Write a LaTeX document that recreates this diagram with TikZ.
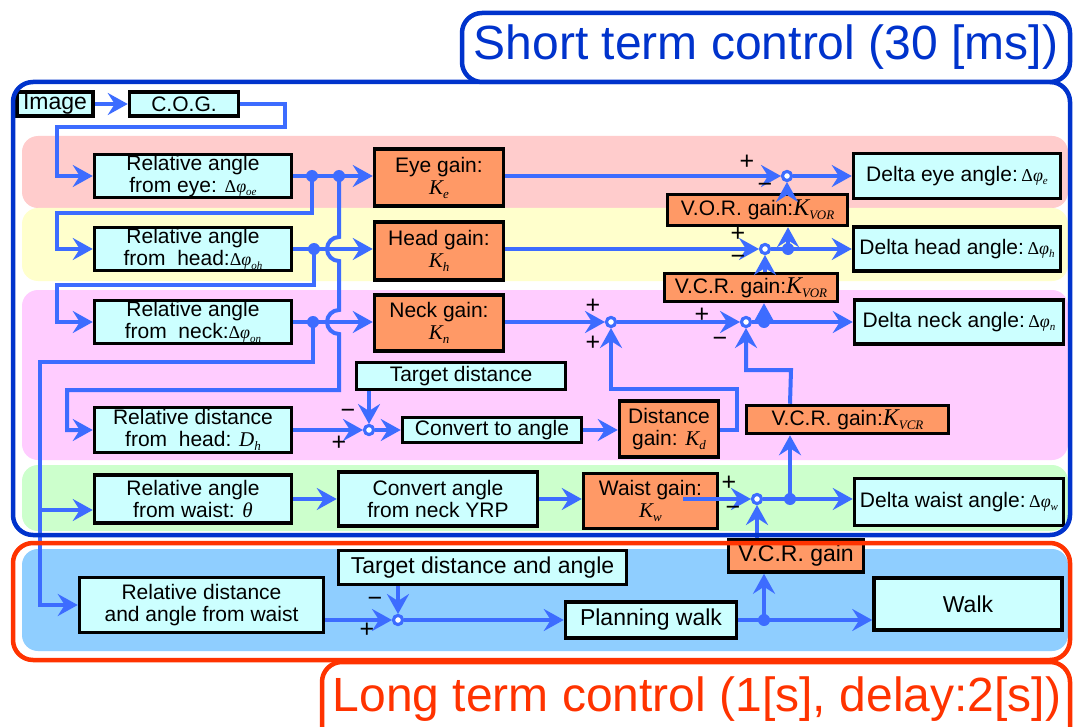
\documentclass[tikz,border=0pt]{standalone}
\usepackage{fontspec}
\setmainfont{Liberation Sans}
\newfontfamily\tms{Liberation Serif}
\usetikzlibrary{arrows.meta}

\definecolor{ln}{RGB}{61,108,255}
\definecolor{cy}{RGB}{204,255,255}
\definecolor{og}{RGB}{255,153,102}
\definecolor{fb}{RGB}{0,51,204}
\definecolor{fr}{RGB}{255,51,0}
\definecolor{bEye}{RGB}{255,204,204}
\definecolor{bHead}{RGB}{255,255,204}
\definecolor{bNeck}{RGB}{255,204,255}
\definecolor{bWaist}{RGB}{204,255,204}
\definecolor{bLong}{RGB}{143,206,255}

% italic symbol with subscript
\newcommand\mk[3][21]{{\fontsize{#1}{#1}\selectfont\tms\itshape #2}\raisebox{-4pt}{\fontsize{13}{13}\selectfont\tms\itshape #3}}
% Delta-phi with subscript
\newcommand\dphi[1]{{\fontsize{18}{18}\selectfont\tms Δ\itshape φ}\raisebox{-3.5pt}{\fontsize{11}{11}\selectfont\tms\itshape #1}}

\tikzset{
  cbox/.style={draw=black, line width=3.5pt, fill=cy, align=center, inner sep=0pt,
               font=\fontsize{21}{22}\selectfont},
  obox/.style={cbox, fill=og},
  big/.style={font=\fontsize{23}{24}\selectfont},
  arr/.style={draw=ln, line width=4pt, -{Stealth[length=20pt,width=22pt,inset=7pt]}},
  wire/.style={draw=ln, line width=4pt},
  ring/.style={circle, draw=ln, line width=3pt, fill=white, minimum size=9pt, inner sep=0pt},
  dot/.style={circle, fill=ln, minimum size=12pt, inner sep=0pt},
  sgn/.style={font=\fontsize{25}{25}\selectfont, inner sep=0pt},
  band/.style={rounded corners=16pt},
  frame/.style={line width=4.5pt, rounded corners=20pt},
}

\begin{document}
\begin{tikzpicture}[x=1pt, y=-1pt]
\useasboundingbox (0,0) rectangle (1075,727);
\clip (0,0) rectangle (1075,727);
\fill[white] (0,0) rectangle (1075,727);

% coloured bands
\fill[bEye,   band] (22,136) rectangle (1068,208);
\fill[bHead,  band] (22,208) rectangle (1068,281);
\fill[bNeck,  band] (22,290) rectangle (1068,460);
\fill[bWaist, band] (22,465) rectangle (1068,531);
\fill[bLong,  band] (22,549) rectangle (1068,651);

% blocks
\node[cbox, big, minimum width=76pt,  minimum height=24pt] (img)  at (55,104)  {Image};
\node[cbox, minimum width=109pt, minimum height=24pt] (cog)  at (184,104) {C.O.G.};
\node[cbox, minimum width=197pt, minimum height=43pt] (rele) at (193,176) {Relative angle\\ from eye: \dphi{oe}};
\node[cbox, minimum width=197pt, minimum height=43pt] (relh) at (193,249) {Relative angle\\ from\ \ head:\dphi{oh}};
\node[cbox, minimum width=197pt, minimum height=43pt] (reln) at (193,322) {Relative angle\\ from\ \ neck:\dphi{on}};
\node[cbox, minimum width=197pt, minimum height=45pt] (reld) at (193,430) {Relative distance\\ from\ \ head: \mk{D}{h}};
\node[cbox, minimum width=197pt, minimum height=48pt] (relw) at (193,499) {Relative angle\\ from waist: {\fontsize{21}{21}\selectfont\tms\itshape θ}};

\node[obox, minimum width=129pt, minimum height=57pt] (eg) at (439,177.5) {Eye gain:\\ \mk{K}{e}};
\node[obox, minimum width=129pt, minimum height=58pt] (hg) at (439,251)   {Head gain:\\ \mk{K}{h}};
\node[obox, minimum width=129pt, minimum height=56pt] (ng) at (439,323)   {Neck gain:\\ \mk{K}{n}};

\node[cbox, minimum width=209pt, minimum height=27pt] (td)   at (461,376)   {Target distance};
\node[cbox, minimum width=179pt, minimum height=25pt] (conv) at (492,430)   {Convert to angle};
\node[obox, minimum width=99pt,  minimum height=56pt] (dg)   at (669,429)   {Distance\\ gain: \mk{K}{d}};
\node[cbox, minimum width=199pt, minimum height=54pt] (cn)   at (438,499)   {Convert angle\\ from neck YRP};
\node[obox, minimum width=134pt, minimum height=55pt] (wg)   at (650.5,501) {Waist gain:\\ \mk{K}{w}};

\node[cbox, minimum width=207pt, minimum height=45pt] (dele) at (957,176) {Delta eye angle:\,\dphi{e}};
\node[cbox, minimum width=207pt, minimum height=44pt] (delh) at (957,249) {Delta head angle:\,\dphi{h}};
\node[cbox, minimum width=209pt, minimum height=44pt] (deln) at (959,322) {Delta neck angle:\,\dphi{n}};
\node[cbox, minimum width=209pt, minimum height=47pt] (delw) at (959,502) {Delta waist angle:\,\dphi{w}};

\node[obox, minimum width=180pt, minimum height=31pt] (vor)  at (757.5,210) {V.O.R. gain:\mk[24]{K}{VOR}};
\node[obox, minimum width=173pt, minimum height=28pt] (vcr1) at (751,287.5) {V.C.R. gain:\mk[24]{K}{VOR}};
\node[obox, minimum width=202pt, minimum height=28pt] (vcrd) at (847.5,419.5) {V.C.R. gain:\mk[24]{K}{VCR}};
\node[obox, big, minimum width=135pt, minimum height=32pt] (vcr2) at (796,556) {V.C.R. gain};

\node[cbox, big, minimum width=288pt, minimum height=34pt] (tda)  at (482.5,567.5) {Target distance and angle};
\node[cbox, minimum width=244pt, minimum height=55pt] (rdaw) at (201.5,605) {Relative distance\\ and angle from waist};
\node[cbox, big, minimum width=171pt, minimum height=36pt] (pw)   at (651,620) {Planning walk};
\node[cbox, big, minimum width=188pt, minimum height=52pt] (walk) at (968,604) {Walk};

% summing points and branch points
\node[ring] (sEye)  at (787,176) {};
\node[ring] (sHead) at (765,249) {};
\node[ring] (sN1)   at (611,322) {};
\node[ring] (sN2)   at (746,322) {};
\node[ring] (sD)    at (369,430) {};
\node[ring] (sW)    at (757,499) {};
\node[ring] (sL)    at (398,620) {};
\coordinate (de1) at (312,176);
\coordinate (de2) at (339,176);
\coordinate (dH)  at (314,249);
\coordinate (dN)  at (313,322);
\coordinate (dHo) at (788,249);
\coordinate (dNo) at (764,322);
\coordinate (dWo) at (790,499);
\coordinate (dLo) at (764,620);

% image processing chain
\draw[arr] (img) -- (cog);
\draw[arr] (cog.east) -- (285,104) -- (285,127) -- (57,127) |- (rele.west);

% eye row
\draw[arr] (rele.east) -- (eg.west |- rele.east);
\draw[arr] (de1) -- (312,213) -- (57,213) |- (relh.west);
\draw[arr] (de2) -- (339,237) arc[start angle=90, end angle=270, radius=12pt]
                 -- (339,310) arc[start angle=90, end angle=270, radius=12pt]
                 -- (339,390) -- (67,390) |- (reld.west);
\draw[arr] (eg.east |- sEye) -- (sEye);
\draw[arr] (sEye) -- (dele.west |- sEye);
\draw[arr] (vor.north -| sEye) -- (sEye);

% head row
\draw[arr] (relh.east) -- (hg.west |- relh.east);
\draw[arr] (dH) -- (314,285) -- (57,285) |- (reln.west);
\draw[arr] (hg.east |- sHead) -- (sHead);
\draw[arr] (sHead) -- (delh.west |- sHead);
\draw[arr] (dHo) -- (vor.south -| dHo);
\draw[arr] (vcr1.north -| sHead) -- (sHead);

% neck row
\draw[arr] (reln.east) -- (ng.west |- reln.east);
\draw[arr] (dN) -- (313,362) -- (40,362) |- (rdaw.west);
\draw[arr] (40,510) -- (relw.west |- 40,510);
\draw[arr] (ng.east |- sN1) -- (sN1);
\draw[arr] (sN1) -- (sN2);
\draw[arr] (sN2) -- (deln.west |- sN2);
\draw[arr] (dNo) -- (vcr1.south -| dNo);
\draw[arr] (vcrd.north -| dWo) -- (791,370) -| (sN2);

% distance loop
\draw[arr] (reld.east) -- (sD);
\draw[arr] (td.south -| sD) -- (sD);
\draw[arr] (sD) -- (conv.west |- sD);
\draw[arr] (conv.east) -- (dg.west |- conv.east);
\draw[arr] (dg.east |- conv.east) -- (737,430) -- (737,389) -| (sN1);

% waist row
\draw[arr] (relw) -- (cn);
\draw[arr] (cn) -- (wg.west |- cn);
\draw[arr] (683,499) -- (sW);
\draw[arr] (sW) -- (delw.west |- sW);
\draw[arr] (dWo) -- (vcrd.south -| dWo);
\draw[arr] (vcr2.north -| sW) -- (sW);

% walking row
\draw[arr] (rdaw.east |- sL) -- (sL);
\draw[arr] (tda.south -| sL) -- (sL);
\draw[arr] (sL) -- (pw.west |- sL);
\draw[arr] (pw.east) -- (walk.west |- pw.east);
\draw[arr] (dLo) -- (vcr2.south -| dLo);

% rings on top, branch dots
\foreach \s in {sEye,sHead,sN1,sN2,sD,sW,sL} \node[ring] at (\s) {};
\foreach \d in {de1,de2,dH,dN,dHo,dNo,dWo,dLo} \node[dot] at (\d) {};

% signs
\node[sgn] at (747,162) {+};  \node[sgn] at (765,188) {−};
\node[sgn] at (738,234) {+};  \node[sgn] at (738,260) {−};
\node[sgn] at (593,306) {+};  \node[sgn] at (593,343) {+};
\node[sgn] at (702,315) {+};  \node[sgn] at (720,342) {−};
\node[sgn] at (348,414) {−};  \node[sgn] at (339,443) {+};
\node[sgn] at (729,483) {+};  \node[sgn] at (733,511) {−};
\node[sgn] at (375,602) {−};  \node[sgn] at (367,630) {+};

% frames with their title tabs
\draw[fb, frame] (13,82) rectangle (1070,535);
\draw[fb, frame, fill=white] (462,13) rectangle (1070,82);
\draw[fr, frame] (13,543) rectangle (1070,660);
\draw[fr, frame, fill=white] (322,662) rectangle (1070,770);
\node[text=fb, font=\fontsize{48}{48}\selectfont] (st) at (766,47) {Short term control (30 [ms])};
\node[text=fr, font=\fontsize{48}{48}\selectfont] (lt) at (697,699) {Long term control (1[s], delay:2[s])};
\end{tikzpicture}
\end{document}
